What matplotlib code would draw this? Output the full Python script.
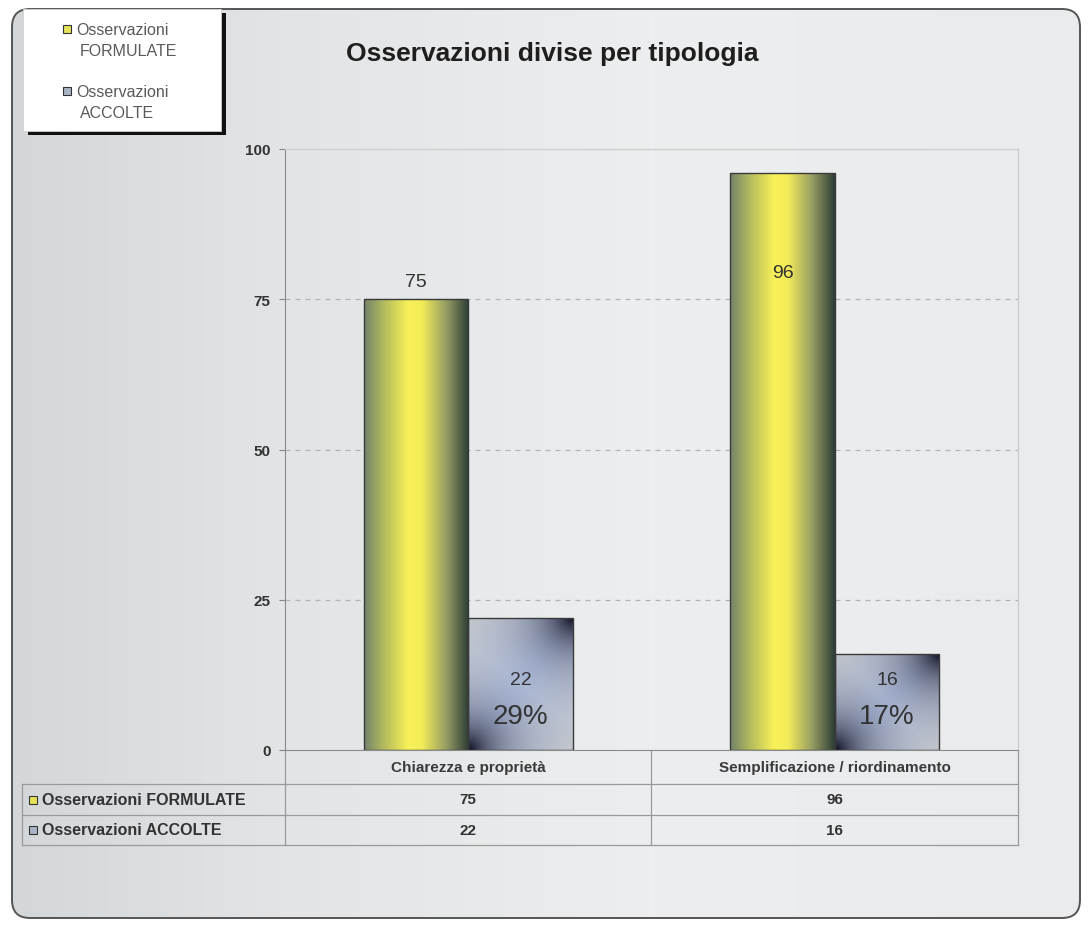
import matplotlib.pyplot as plt
import numpy as np
from matplotlib.colors import LinearSegmentedColormap, to_rgb
from matplotlib.patches import FancyBboxPatch, Rectangle
from matplotlib.lines import Line2D

plt.rcParams["font.family"] = ["Liberation Sans", "DejaVu Sans"]

categories = ["Chiarezza e proprietà", "Semplificazione / riordinamento"]
series_names = ["Osservazioni FORMULATE", "Osservazioni ACCOLTE"]
formulate = [75, 96]
accolte = [22, 16]
y_ticks = [0, 25, 50, 75, 100]

W, H = 1092, 929
fig = plt.figure(figsize=(W / 100, H / 100), dpi=100)
fig.patch.set_facecolor("white")

# pixel-space overlay for the frame, legend and data table
bg = fig.add_axes([0, 0, 1, 1], zorder=0)
bg.set_xlim(0, W)
bg.set_ylim(H, 0)
bg.axis("off")

grad = LinearSegmentedColormap.from_list(
    "bg", [(0, "#d4d7d9"), (0.25, "#e2e4e6"), (0.6, "#eceeef"), (1, "#e9ebec")])
frame = FancyBboxPatch((12, 10), W - 24, H - 20,
                       boxstyle="round,pad=0,rounding_size=18",
                       facecolor="none", edgecolor="#555555", lw=1.4, zorder=3)
bg.add_patch(frame)
img = bg.imshow(np.linspace(0, 1, 256)[None, :], cmap=grad, aspect="auto",
                extent=[12, W - 12, H - 10, 10], zorder=1)
img.set_clip_path(frame)

# legend box with drop shadow
bg.add_patch(Rectangle((28, 14), 198, 122, facecolor="#111111", edgecolor="none", zorder=4))
bg.add_patch(Rectangle((23, 10), 198, 122, facecolor="white", edgecolor="#d0d0d0", lw=0.6, zorder=5))

yellow_key = "#e6e25a"
blue_key = "#a9b4c8"
for (sq, name, ty) in [(yellow_key, series_names[0], 30), (blue_key, series_names[1], 92)]:
    first, second = name.split(" ")
    bg.add_patch(Rectangle((63, ty - 4), 8, 8, facecolor=sq, edgecolor="#333333", lw=0.8, zorder=6))
    bg.text(76, ty, first, fontsize=11.5, color="#5a5a5a", va="center", ha="left", zorder=6)
    bg.text(80, ty + 21, second, fontsize=11.5, color="#5a5a5a", va="center", ha="left", zorder=6)

bg.text(552, 54, "Osservazioni divise per tipologia", fontsize=19, fontweight="bold",
        color="#1e1e1e", ha="center", va="center", zorder=6)

# main plot area
px_l, px_r, px_t, px_b = 285, 1018, 150, 751
ax = fig.add_axes([px_l / W, 1 - px_b / H, (px_r - px_l) / W, (px_b - px_t) / H], zorder=2)
ax.set_facecolor("none")
ax.set_xlim(-0.5, 1.5)
ax.set_ylim(0, 100)

yel_cmap = LinearSegmentedColormap.from_list(
    "yel", [(0, "#74846a"), (0.18, "#b0b95e"), (0.42, "#f8f158"), (0.55, "#f4ec57"),
            (0.78, "#98a064"), (1, "#2e3e36")])

def yellow_fill(bar):
    x0, y0 = bar.get_x(), bar.get_y()
    w, h = bar.get_width(), bar.get_height()
    im = ax.imshow(np.linspace(0, 1, 200)[None, :], cmap=yel_cmap, aspect="auto",
                   extent=[x0, x0 + w, y0, y0 + h], zorder=2, interpolation="bilinear")
    im.set_clip_path(bar)

def blue_fill(bar):
    # light centre, dark bottom-left and top-right corners
    x0, y0 = bar.get_x(), bar.get_y()
    w, h = bar.get_width(), bar.get_height()
    pw, ph = w * 366.5, h * 6.01
    u = np.linspace(0, pw, 120)[None, :]
    v = np.linspace(0, ph, 120)[:, None]
    d1 = np.hypot(pw - u, ph - v)
    d2 = np.hypot(u, v)
    dark = np.maximum(np.exp(-d1 / 30.0), np.exp(-d2 / 30.0))
    light = np.array(to_rgb("#b3c1e0"))
    edge = np.array(to_rgb("#c8ccd2"))
    black = np.array(to_rgb("#0c0c1e"))
    # slightly greyer towards the top-left / bottom-right edges
    s = np.abs((u / pw) - (v / ph))[..., None]
    base = light * (1 - s) + edge * s
    rgb = base * (1 - dark[..., None]) + black * dark[..., None]
    im = ax.imshow(rgb, aspect="auto", origin="lower",
                   extent=[x0, x0 + w, y0, y0 + h], zorder=2, interpolation="bilinear")
    im.set_clip_path(bar)

x = np.arange(len(categories))
bw = 0.285
bars_f = ax.bar(x - bw / 2, formulate, bw, facecolor="none", edgecolor="#3a3a3a", lw=1.0, zorder=3)
bars_a = ax.bar(x + bw / 2, accolte, bw, facecolor="none", edgecolor="#3a3a3a", lw=1.0, zorder=3)
for b in bars_f:
    yellow_fill(b)
for b in bars_a:
    blue_fill(b)

# value labels
for i, b in enumerate(bars_f):
    cx = b.get_x() + b.get_width() / 2
    ly = formulate[i] - 16.5 if formulate[i] > 90 else formulate[i] + 3
    ax.text(cx, ly, str(formulate[i]), ha="center", va="center",
            fontsize=14, color="#333333", zorder=4)
for i, b in enumerate(bars_a):
    cx = b.get_x() + b.get_width() / 2
    pct = round(100 * accolte[i] / formulate[i])
    ax.text(cx, 11.8, str(accolte[i]), ha="center", va="center", fontsize=14, color="#333333", zorder=4)
    ax.text(cx, 5.6, f"{pct}%", ha="center", va="center", fontsize=20, color="#333333", zorder=4)

ax.set_yticks(y_ticks)
ax.set_yticklabels([str(t) for t in y_ticks], fontsize=11, fontweight="bold", color="#333333")
ax.tick_params(axis="y", length=4.5, color="#888888", pad=6)
ax.set_xticks([])
for yv in y_ticks[1:-1]:
    ax.axhline(yv, color="#b4b4b4", lw=0.9, ls=(0, (4, 4)), zorder=1)
for side in ["top", "right"]:
    ax.spines[side].set_color("#cfcfcf")
    ax.spines[side].set_linewidth(1.0)
ax.spines["left"].set_color("#8a8a8a")
ax.spines["bottom"].set_color("#8a8a8a")

# data table under the axis
tcol = "#9a9a9a"
row_y = [785, 816, 846]
col_x = [px_l, 651, px_r]
for yy in row_y:
    bg.add_line(Line2D([22, px_r], [yy, yy], color=tcol, lw=0.9, zorder=6))
bg.add_line(Line2D([22, 22], [785, 846], color=tcol, lw=0.9, zorder=6))
for xx in col_x:
    bg.add_line(Line2D([xx, xx], [px_b, 846], color=tcol, lw=0.9, zorder=6))

centers = [(col_x[0] + col_x[1]) / 2, (col_x[1] + col_x[2]) / 2]
for cxp, cat in zip(centers, categories):
    bg.text(cxp, 768, cat, ha="center", va="center", fontsize=11, fontweight="bold",
            color="#3a3a3a", zorder=6)
for row, (name, vals, key) in enumerate(zip(series_names, [formulate, accolte], [yellow_key, blue_key])):
    yc = (row_y[row] + row_y[row + 1]) / 2
    bg.add_patch(Rectangle((29, yc - 4), 8, 8, facecolor=key, edgecolor="#333333", lw=0.8, zorder=6))
    bg.text(42, yc, name, ha="left", va="center", fontsize=11.5, fontweight="bold",
            color="#333333", zorder=6)
    for cxp, v in zip(centers, vals):
        bg.text(cxp, yc, str(v), ha="center", va="center", fontsize=11, fontweight="bold",
                color="#333333", zorder=6)

fig.savefig("out.png", dpi=100)
